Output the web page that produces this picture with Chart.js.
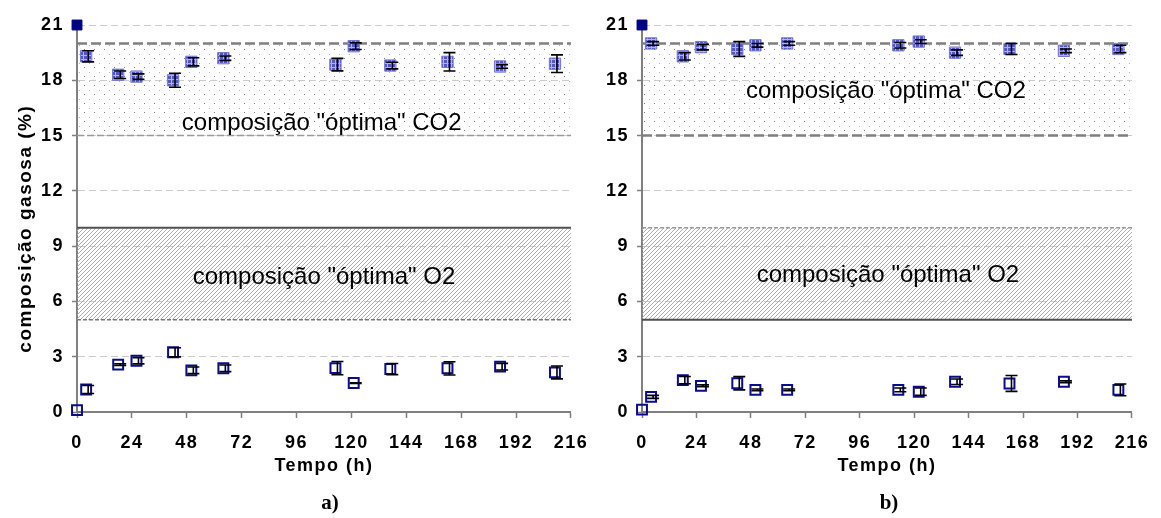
<!DOCTYPE html>
<html>
<head>
<meta charset="utf-8">
<script src="https://cdn.jsdelivr.net/npm/chart.js@4.4.0/dist/chart.umd.min.js"></script>
<style>
  body { margin: 0; background: #fff; width: 1161px; height: 518px; position: relative; overflow: hidden; }
  canvas { position: absolute; top: 0; }
  #graficoA { left: 0; }
  #graficoB { left: 580px; }
  .sub { position: absolute; top: 490px; width: 60px; text-align: center; font: bold 21px "Liberation Serif", "Times New Roman", serif; }
</style>
</head>
<body>
<canvas id="graficoA" width="600" height="518"></canvas>
<canvas id="graficoB" width="581" height="518"></canvas>
<div class="sub" style="left:300px">a)</div>
<div class="sub" style="left:859px">b)</div>
<script>
// dados lidos do gráfico a)
const tempo_a = [0, 4, 18, 26, 42, 50, 64, 113, 121, 137, 162, 185, 209];
const co2_a = [21.0, 19.3, 18.3, 18.2, 18.0, 19.0, 19.2, 18.85, 19.85, 18.8, 19.0, 18.75, 18.9];
const co2_a_erro = [null, 0.3, 0.2, 0.15, 0.38, 0.22, 0.12, 0.34, 0.18, 0.18, 0.5, 0.1, 0.48];
const o2_a = [0.1, 1.22, 2.57, 2.78, 3.24, 2.26, 2.37, 2.38, 1.57, 2.33, 2.37, 2.46, 2.15];
const o2_a_erro = [null, 0.22, 0.05, 0.17, 0.25, 0.18, 0.18, 0.36, 0.02, 0.3, 0.36, 0.18, 0.35];

// dados lidos do gráfico b)
const tempo_b = [0, 4, 18, 26, 42, 50, 64, 113, 122, 138, 162, 186, 210];
const co2_b = [21.0, 20.0, 19.3, 19.8, 19.7, 19.9, 20.0, 19.9, 20.1, 19.5, 19.7, 19.6, 19.7];
const co2_b_erro = [null, 0.1, 0.2, 0.15, 0.4, 0.1, 0.1, 0.15, 0.1, 0.15, 0.3, 0.1, 0.2];
const o2_b = [0.13, 0.82, 1.73, 1.42, 1.56, 1.2, 1.2, 1.2, 1.1, 1.64, 1.55, 1.64, 1.2];
const o2_b_erro = [null, 0.08, 0.2, 0.05, 0.36, 0.05, 0.05, 0.1, 0.2, 0.15, 0.43, 0.05, 0.32];

const eixoX = [0, 24, 48, 72, 96, 120, 144, 168, 192, 216];
const eixoY = [0, 3, 6, 9, 12, 15, 18, 21];
const faixa_co2 = [15, 20];
const faixa_o2 = [5, 10];
const txt_co2 = 'composição "óptima" CO2';
const txt_o2 = 'composição "óptima" O2';

const fonte = '"Liberation Sans", Arial, sans-serif';

function padrao(w, h, desenha) {
  const c = document.createElement('canvas');
  c.width = w; c.height = h;
  const g = c.getContext('2d');
  desenha(g);
  return g.createPattern(c, 'repeat');
}

// pontinhos da faixa de CO2
const padraoPontos = padrao(10, 9, g => {
  g.fillStyle = '#7c7c7c'; g.fillRect(4, 4, 1, 1);
  g.fillStyle = '#b4b4b4'; g.fillRect(9, 0, 1, 1);
});
// riscas diagonais da faixa de O2
const padraoRiscas = padrao(4, 4, g => {
  g.fillStyle = '#adadad';
  g.fillRect(3, 0, 1, 1); g.fillRect(2, 1, 1, 1); g.fillRect(1, 2, 1, 1); g.fillRect(0, 3, 1, 1);
});
// quadradinho azul quadriculado
const padraoAzul = padrao(4, 4, g => {
  g.fillStyle = '#5257c4'; g.fillRect(0, 0, 4, 4);
  g.fillStyle = '#b2b4ee'; g.fillRect(3, 0, 1, 4); g.fillRect(0, 3, 4, 1);
});

function pares(xs, ys) {
  return xs.map((x, i) => ({x: x, y: ys[i]}));
}
function linhaH(v) {
  return [{x: eixoX[0], y: v}, {x: eixoX[eixoX.length - 1], y: v}];
}

const espacamento = {
  id: 'espacamento',
  beforeDraw(chart) { chart.ctx.letterSpacing = '1.5px'; }
};

const barrasErro = {
  id: 'barrasErro',
  afterDatasetsDraw(chart) {
    const ctx = chart.ctx;
    const ey = chart.scales.y;
    chart.data.datasets.forEach((ds, i) => {
      if (!ds.erros) return;
      const meta = chart.getDatasetMeta(i);
      meta.data.forEach((pt, j) => {
        const e = ds.erros[j];
        if (e == null) return;
        const v = ds.data[j].y;
        const y1 = ey.getPixelForValue(v + e);
        const y2 = ey.getPixelForValue(v - e);
        ctx.save();
        ctx.strokeStyle = '#000';
        ctx.lineWidth = 1.6;
        ctx.beginPath();
        ctx.moveTo(pt.x + 2, y1); ctx.lineTo(pt.x + 2, y2);
        ctx.moveTo(pt.x - 4, y1); ctx.lineTo(pt.x + 8, y1);
        ctx.moveTo(pt.x - 4, y2); ctx.lineTo(pt.x + 8, y2);
        ctx.stroke();
        ctx.restore();
      });
    });
  }
};

const rotulos = {
  id: 'rotulos',
  afterDatasetsDraw(chart, args, opts) {
    const ctx = chart.ctx;
    ctx.save();
    ctx.letterSpacing = '0px';
    ctx.font = '24px ' + fonte;
    ctx.fillStyle = '#000';
    ctx.textAlign = 'center';
    ctx.textBaseline = 'middle';
    (opts.itens || []).forEach(r => {
      ctx.fillText(r.texto, chart.scales.x.getPixelForValue(r.x), chart.scales.y.getPixelForValue(r.y));
    });
    ctx.restore();
  }
};

function grafico(id, d) {
  new Chart(document.getElementById(id), {
    type: 'scatter',
    data: {
      datasets: [
        {
          label: 'CO2', data: pares(d.tempo, d.co2), erros: d.co2Erro,
          pointStyle: 'rect',
          pointRadius: d.co2.map((v, i) => i === 0 ? 7 : 8),
          backgroundColor: d.co2.map((v, i) => i === 0 ? '#000080' : padraoAzul),
          borderColor: d.co2.map((v, i) => i === 0 ? '#000080' : '#7478d0'),
          borderWidth: 1, clip: false
        },
        {
          label: 'O2', data: pares(d.tempo, d.o2), erros: d.o2Erro,
          pointStyle: 'rect', pointRadius: 7,
          backgroundColor: 'rgba(255,255,255,0)', borderColor: '#0b0b8c',
          borderWidth: 2, clip: false
        },
        Object.assign({type: 'line', data: linhaH(faixa_co2[1]), pointRadius: 0, fill: false}, d.bordas[0]),
        Object.assign({type: 'line', data: linhaH(faixa_co2[0]), pointRadius: 0, fill: 2, backgroundColor: padraoPontos}, d.bordas[1]),
        Object.assign({type: 'line', data: linhaH(faixa_o2[1]), pointRadius: 0, fill: false}, d.bordas[2]),
        Object.assign({type: 'line', data: linhaH(faixa_o2[0]), pointRadius: 0, fill: 4, backgroundColor: padraoRiscas}, d.bordas[3])
      ]
    },
    options: {
      responsive: false,
      animation: false,
      layout: { padding: { left: 0, top: 25, right: d.padDir, bottom: 0 } },
      plugins: {
        legend: { display: false },
        tooltip: { enabled: false },
        rotulos: { itens: d.rotulos }
      },
      scales: {
        x: {
          type: 'linear', min: eixoX[0], max: eixoX[eixoX.length - 1],
          afterBuildTicks: s => { s.ticks = eixoX.map(v => ({value: v})); },
          afterFit: s => { s.height = 106; },
          grid: { drawOnChartArea: false, drawTicks: true, tickLength: 6, tickColor: '#808080', tickWidth: 1.5 },
          border: { color: '#808080', width: 2 },
          ticks: { autoSkip: false, maxRotation: 0, padding: 14, color: '#000', font: { family: fonte, size: 18, weight: 'bold' } },
          title: { display: true, text: 'Tempo (h)', color: '#000', padding: { top: 0, bottom: 41 }, font: { family: fonte, size: 18, weight: 'bold' } }
        },
        y: {
          min: eixoY[0], max: eixoY[eixoY.length - 1],
          afterBuildTicks: s => { s.ticks = eixoY.map(v => ({value: v})); },
          afterFit: s => { s.width = d.larguraY; },
          grid: { color: '#cccccc', lineWidth: 1, tickLength: 5, tickColor: '#808080', tickWidth: 1.5, tickBorderDash: [] },
          border: { color: '#808080', width: 2, dash: [7, 4] },
          ticks: { padding: 8, color: '#000', font: { family: fonte, size: 18, weight: 'bold' } },
          title: { display: d.tituloY, text: 'composição gasosa (%)\u00a0\u00a0\u00a0', color: '#000', padding: { top: 14, bottom: 0 }, font: { family: fonte, size: 19, weight: 'bold' } }
        }
      }
    },
    plugins: [espacamento, rotulos, barrasErro]
  });
}

grafico('graficoA', {
  tempo: tempo_a, co2: co2_a, co2Erro: co2_a_erro, o2: o2_a, o2Erro: o2_a_erro,
  larguraY: 77, padDir: 23, tituloY: true,
  bordas: [
    { borderColor: '#7f7f7f', borderWidth: 2.5, borderDash: [10, 4] },
    { borderColor: '#9a9a9a', borderWidth: 1.5, borderDash: [7, 3] },
    { borderColor: '#505050', borderWidth: 2 },
    { borderColor: '#7a7a7a', borderWidth: 1.5, borderDash: [4, 2] }
  ],
  rotulos: [
    { texto: txt_co2, x: 107, y: 15.65 },
    { texto: txt_o2, x: 108, y: 7.33 }
  ]
});

grafico('graficoB', {
  tempo: tempo_b, co2: co2_b, co2Erro: co2_b_erro, o2: o2_b, o2Erro: o2_b_erro,
  larguraY: 62, padDir: 21, tituloY: false,
  bordas: [
    { borderColor: '#7f7f7f', borderWidth: 2.5, borderDash: [10, 4] },
    { borderColor: '#7f7f7f', borderWidth: 2.5, borderDash: [10, 4] },
    { borderColor: '#9a9a9a', borderWidth: 1.5, borderDash: [4, 2] },
    { borderColor: '#505050', borderWidth: 2 }
  ],
  rotulos: [
    { texto: txt_co2, x: 107.5, y: 17.4 },
    { texto: txt_o2, x: 108.4, y: 7.43 }
  ]
});
</script>
</body>
</html>
